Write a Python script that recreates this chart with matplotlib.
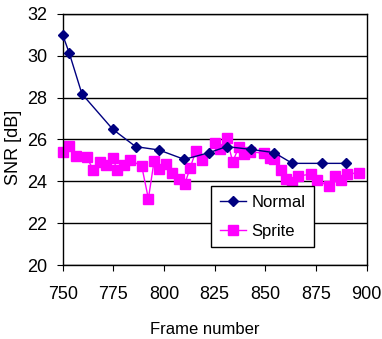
import matplotlib
matplotlib.use("Agg")
import matplotlib.pyplot as plt

# Normal series
normal_x = [750, 753.3, 759.5, 774.7, 786.0, 797.5, 810.0, 822.2, 830.9, 842.8, 854.4, 863.3, 878.0, 889.8]
normal_y = [31.0, 30.12, 28.18, 26.49, 25.66, 25.50, 25.05, 25.37, 25.66, 25.53, 25.37, 24.86, 24.86, 24.86]

# Sprite series
sprite_x = [750, 753.3, 756.6, 761.8, 765.1, 768.4, 771.4, 774.7, 777.0, 780.3, 783.2, 789.0,
            792.3, 795.1, 797.7, 800.8, 803.9, 807.2, 810.2, 812.8, 815.8, 818.8, 825.2, 827.6,
            830.9, 833.9, 837.0, 839.6, 842.5, 849.5, 852.4, 854.2, 857.6, 860.1, 863.3, 866.2,
            872.5, 875.3, 881.2, 884.4, 887.3, 890.1, 896.4]
sprite_y = [25.39, 25.71, 25.23, 25.18, 24.54, 24.94, 24.78, 25.10, 24.54, 24.78, 25.02, 24.73,
            23.17, 24.97, 24.57, 24.83, 24.41, 24.11, 23.86, 24.62, 25.47, 25.02, 25.85, 25.53,
            26.06, 24.94, 25.66, 25.29, 25.42, 25.34, 25.10, 25.05, 24.54, 24.10, 23.98, 24.25,
            24.35, 24.06, 23.78, 24.27, 24.06, 24.35, 24.41]

x_ticks = [750, 775, 800, 825, 850, 875, 900]
y_ticks = [20, 22, 24, 26, 28, 30, 32]

plt.rcParams['font.family'] = ['Liberation Sans', 'DejaVu Sans']

fig = plt.figure(figsize=(3.82, 3.39), dpi=100)
ax = fig.add_axes([0.164, 0.218, 0.796, 0.741])

ax.plot(normal_x, normal_y, color='#000080', lw=1.0, marker='D', ms=5,
        mfc='#000080', mec='#000080', label='Normal', zorder=3, clip_on=False)
ax.plot(sprite_x, sprite_y, color='#ff00ff', lw=1.0, marker='s', ms=7,
        mfc='#ff00ff', mec='#ff00ff', label='Sprite', zorder=2, clip_on=False)

ax.set_xlim(750, 900)
ax.set_ylim(20, 32)
ax.set_xticks(x_ticks)
ax.set_yticks(y_ticks)
ax.tick_params(labelsize=13, length=4, color='black')
ax.tick_params(axis='x', pad=11)
ax.tick_params(axis='y', pad=7)
ax.yaxis.grid(True, color='black', lw=1)
ax.set_axisbelow(True)
for s in ax.spines.values():
    s.set_color('black')
    s.set_linewidth(1)

ax.set_xlabel('Frame number', fontsize=12)
ax.xaxis.set_label_coords(0.467, -0.225)
ax.set_ylabel('SNR [dB]', fontsize=13)
ax.yaxis.set_label_coords(-0.135, 0.47)

leg = ax.legend(loc='lower right', bbox_to_anchor=(0.825, 0.072), fontsize=12,
                frameon=True, fancybox=False, edgecolor='black', framealpha=1,
                handlelength=1.6, borderpad=0.5, labelspacing=0.85, handletextpad=0.3,
                borderaxespad=0)
leg.get_frame().set_linewidth(1)

fig.savefig('out.png', dpi=100)
